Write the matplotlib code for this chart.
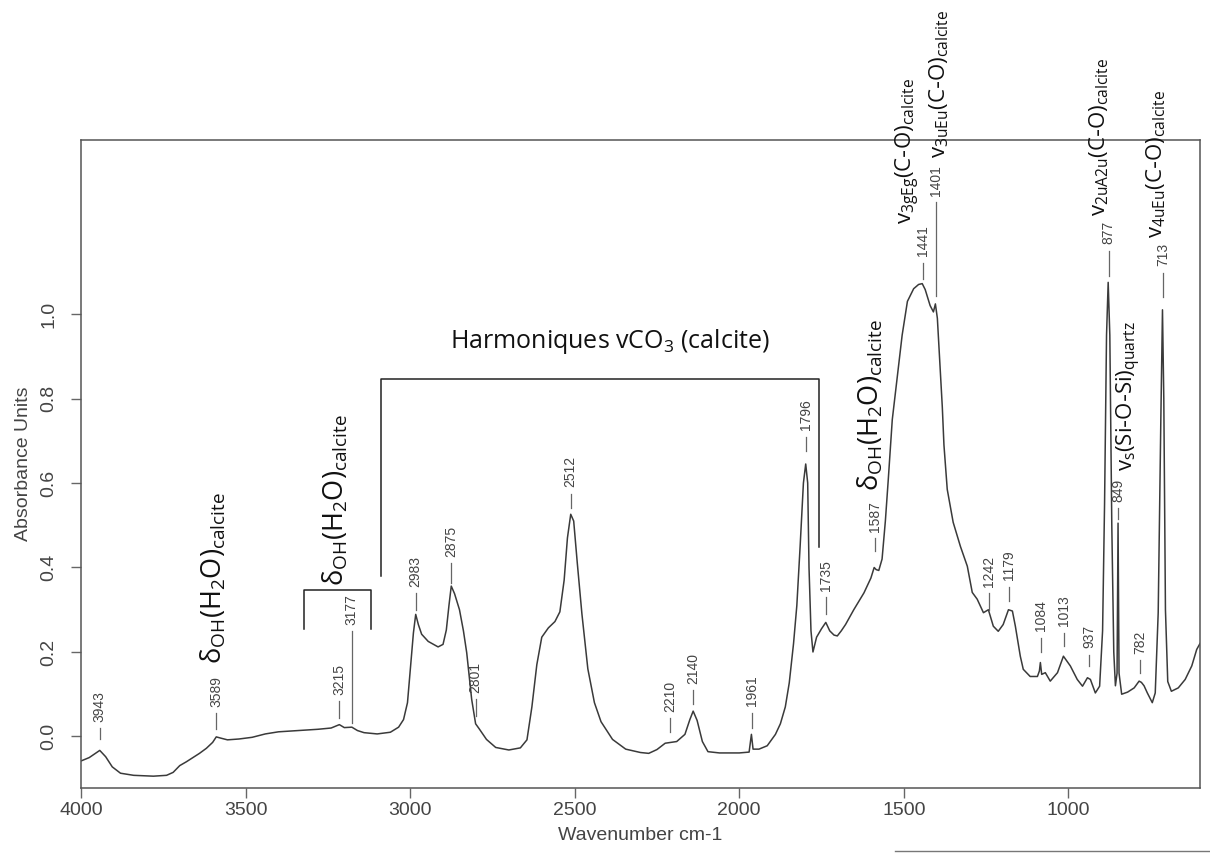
import matplotlib
matplotlib.use("Agg")
import matplotlib.pyplot as plt

# spectrum (wavenumber cm-1, absorbance)
wavenumber = [4000, 3975, 3960, 3943, 3925, 3905, 3880, 3840, 3780, 3740, 3720, 3700,
              3680, 3660, 3640, 3619, 3600, 3589, 3575, 3555, 3520, 3480, 3440, 3400,
              3340, 3280, 3240, 3215, 3200, 3177, 3160, 3140, 3100, 3060, 3035, 3020,
              3008, 2998, 2990, 2983, 2975, 2965, 2945, 2915, 2900, 2890, 2882, 2875,
              2865, 2850, 2838, 2828, 2813, 2801, 2790, 2768, 2740, 2700, 2665, 2645,
              2630, 2615, 2600, 2580, 2560, 2545, 2532, 2522, 2512, 2503, 2492, 2478,
              2460, 2440, 2420, 2385, 2345, 2300, 2275, 2250, 2225, 2190, 2165, 2150,
              2140, 2128, 2112, 2095, 2060, 2000, 1970, 1963, 1958, 1940, 1915, 1890,
              1875, 1860, 1848, 1835, 1825, 1815, 1805, 1798, 1792, 1788, 1782, 1776,
              1765, 1750, 1737, 1725, 1712, 1702, 1690, 1677, 1652, 1621, 1600, 1590,
              1584, 1576, 1566, 1556, 1547, 1535, 1520, 1505, 1489, 1470, 1455, 1444,
              1435, 1420, 1410, 1404, 1398, 1390, 1383, 1378, 1368, 1350, 1328, 1307,
              1292, 1277, 1258, 1243, 1228, 1213, 1198, 1182, 1170, 1161, 1146, 1137,
              1116, 1094, 1088, 1085, 1081, 1070, 1055, 1033, 1015, 994, 973, 957,
              942, 933, 918, 905, 896, 890, 884, 879, 874, 868, 862, 857,
              852, 849, 846, 838, 820, 800, 785, 778, 770, 760, 745, 736,
              727, 719, 714, 710, 705, 698, 687, 666, 645, 625, 610, 600]
absorbance = [-0.058, -0.050, -0.042, -0.033, -0.048, -0.072, -0.087, -0.092, -0.094, -0.092, -0.085, -0.069,
              -0.060, -0.050, -0.040, -0.028, -0.014, -0.001, -0.004, -0.008, -0.006, -0.002, 0.006, 0.011,
              0.014, 0.017, 0.020, 0.028, 0.021, 0.022, 0.014, 0.009, 0.006, 0.010, 0.022, 0.040,
              0.080, 0.170, 0.245, 0.289, 0.265, 0.242, 0.225, 0.212, 0.218, 0.252, 0.310, 0.356,
              0.338, 0.300, 0.250, 0.198, 0.088, 0.030, 0.018, -0.007, -0.026, -0.032, -0.027, -0.008,
              0.070, 0.170, 0.235, 0.257, 0.272, 0.295, 0.370, 0.470, 0.526, 0.510, 0.410, 0.290,
              0.160, 0.080, 0.035, -0.007, -0.030, -0.038, -0.040, -0.031, -0.016, -0.012, 0.005, 0.040,
              0.060, 0.038, -0.012, -0.036, -0.039, -0.039, -0.037, 0.005, -0.030, -0.030, -0.022, 0.005,
              0.030, 0.070, 0.127, 0.220, 0.310, 0.450, 0.600, 0.645, 0.600, 0.400, 0.250, 0.200,
              0.235, 0.255, 0.270, 0.250, 0.240, 0.238, 0.250, 0.265, 0.300, 0.340, 0.375, 0.400,
              0.395, 0.393, 0.420, 0.510, 0.610, 0.750, 0.850, 0.950, 1.030, 1.060, 1.070, 1.072,
              1.058, 1.020, 1.005, 1.024, 0.990, 0.880, 0.780, 0.690, 0.585, 0.507, 0.450, 0.403,
              0.341, 0.325, 0.293, 0.300, 0.261, 0.249, 0.265, 0.300, 0.297, 0.261, 0.190, 0.159,
              0.142, 0.142, 0.155, 0.175, 0.147, 0.151, 0.131, 0.151, 0.190, 0.167, 0.135, 0.119,
              0.139, 0.135, 0.103, 0.119, 0.250, 0.550, 0.950, 1.075, 0.950, 0.500, 0.200, 0.120,
              0.150, 0.505, 0.150, 0.100, 0.105, 0.115, 0.131, 0.128, 0.120, 0.103, 0.080, 0.103,
              0.293, 0.750, 1.010, 0.800, 0.300, 0.130, 0.107, 0.115, 0.135, 0.167, 0.206, 0.220]

# peak labels
peak_labels = [3943, 3589, 3215, 3177, 2983, 2875, 2801, 2512, 2210, 2140, 1961, 1796, 1735,
               1587, 1441, 1401, 1242, 1179, 1084, 1013, 937, 877, 849, 782, 713]
# where each little tick starts / ends (absorbance units)
tick_lo = [-0.005, 0.017, 0.044, 0.033, 0.30, 0.364, 0.048, 0.54, 0.010, 0.076, 0.020, 0.676, 0.29,
           0.44, 1.083, 1.043, 0.30, 0.32, 0.20, 0.214, 0.167, 1.09, 0.515, 0.15, 1.04]
tick_hi = [0.020, 0.055, 0.083, 0.250, 0.34, 0.410, 0.088, 0.575, 0.044, 0.110, 0.056, 0.710, 0.33,
           0.47, 1.122, 1.265, 0.34, 0.355, 0.234, 0.246, 0.194, 1.15, 0.540, 0.18, 1.098]

x_ticks = [4000, 3500, 3000, 2500, 2000, 1500, 1000]
y_ticks = [0.0, 0.2, 0.4, 0.6, 0.8, 1.0]

plt.rcParams['mathtext.fontset'] = 'custom'
plt.rcParams['mathtext.rm'] = 'Open Sans'
plt.rcParams['mathtext.it'] = 'Open Sans:italic'
plt.rcParams['mathtext.bf'] = 'Open Sans:bold'

grey = '#444444'
small_font = 'Liberation Sans'

fig = plt.figure(figsize=(12.1, 8.59), dpi=100)
ax = fig.add_axes([81 / 1210, 71 / 859, 1119 / 1210, 648 / 859])

ax.plot(wavenumber, absorbance, color='#3a3a3a', lw=1.1)
ax.set_xlim(4000, 600)
ax.set_ylim(-0.122, 1.412)

ax.set_xticks(x_ticks)
ax.set_xticklabels([str(v) for v in x_ticks], fontfamily=small_font)
ax.set_yticks(y_ticks)
ax.set_yticklabels(['%.1f' % v for v in y_ticks], rotation=90, va='center', fontfamily=small_font)
ax.tick_params(direction='out', length=7, width=1, color='#666666', labelsize=14,
               labelcolor=grey, pad=3)
ax.tick_params(axis='y', pad=10)
for s in ax.spines.values():
    s.set_color('#555555')
    s.set_linewidth(1.1)

ax.set_xlabel('Wavenumber cm-1', fontsize=14, color=grey, family=small_font, labelpad=6)
ax.set_ylabel('Absorbance Units', fontsize=14, color=grey, family=small_font, labelpad=6)

# peak position labels
for wn, lo, hi in zip(peak_labels, tick_lo, tick_hi):
    ax.plot([wn, wn], [lo, hi], color='#666666', lw=0.9, clip_on=False)
    ax.text(wn, hi + 0.015, str(wn), rotation=90, ha='center', va='bottom',
            fontsize=10, color=grey, family=small_font, clip_on=False)

# brackets
ax.plot([3088, 3088, 1757, 1757], [0.379, 0.846, 0.846, 0.448], color='#222222', lw=1.1)
ax.plot([3322, 3322, 3119, 3119], [0.254, 0.346, 0.346, 0.254], color='#222222', lw=1.1)

big = dict(fontsize=16, color='#111111', rotation=90, ha='center', va='center')
delta = dict(big, fontsize=19.5)
delta_txt = r'$\mathrm{δ_{OH}(H_2O)_{calcite}}$'
ax.text(3598, 0.375, delta_txt, **delta)
ax.text(3228, 0.56, delta_txt, **delta)
ax.text(1602, 0.784, delta_txt, **delta)
ax.text(1487, 1.385, r'$\mathrm{v_{3gEg}(C}$-$\mathrm{O)_{calcite}}$', **big)
ax.text(1393, 1.545, r'$\mathrm{v_{3uEu}(C}$-$\mathrm{O)_{calcite}}$', **big)
ax.text(906, 1.42, r'$\mathrm{v_{2uA2u}(C}$-$\mathrm{O)_{calcite}}$', **big)
ax.text(733, 1.355, r'$\mathrm{v_{4uEu}(C}$-$\mathrm{O)_{calcite}}$', **big)
ax.text(815, 0.806, r'$\mathrm{v_s(Si}$-$\mathrm{O}$-$\mathrm{Si)_{quartz}}$', **big)
ax.text(2392, 0.934, r'Harmoniques vCO$_3$ (calcite)', fontsize=18, color='#111111',
        ha='center', va='center', family='Open Sans')

# scan artefact line under the x label
fig.add_artist(plt.Line2D([0.74, 1.0], [0.009, 0.009], color='#777777', lw=1))

fig.savefig('out.png', dpi=100)
